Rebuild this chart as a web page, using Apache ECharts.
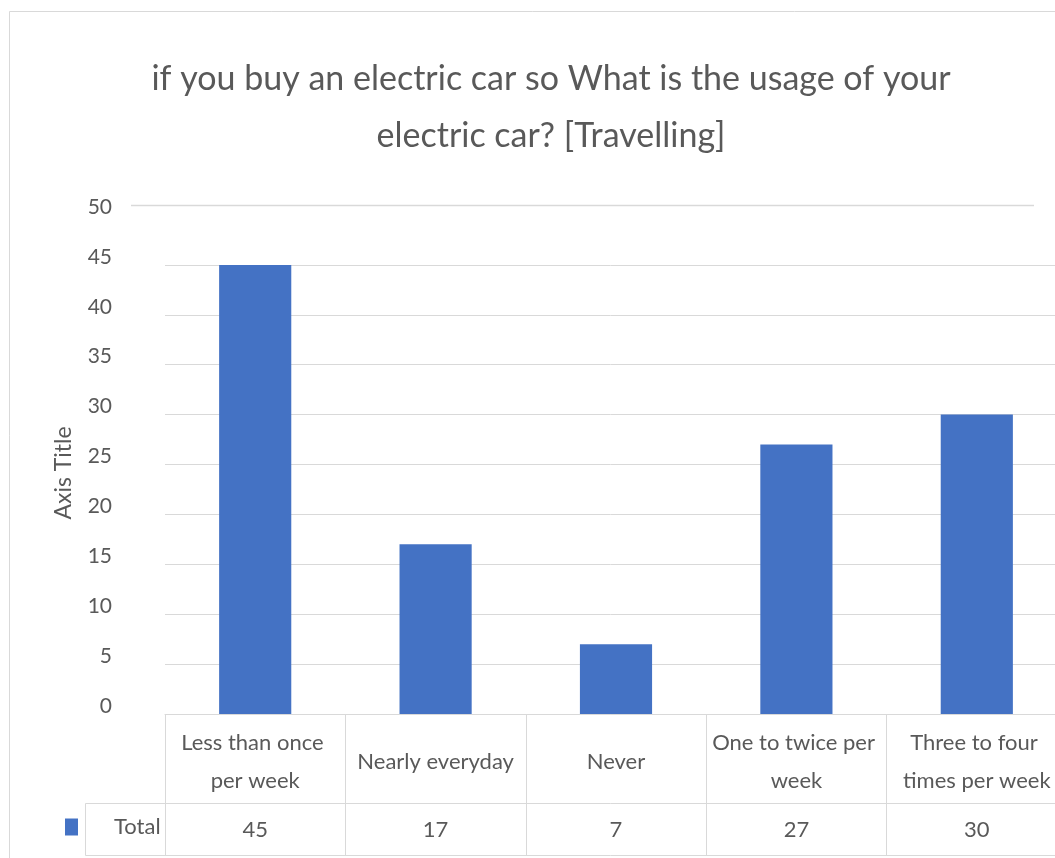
<!DOCTYPE html>
<html>
<head>
<meta charset="utf-8">
<script src="https://cdn.jsdelivr.net/npm/echarts@6/dist/echarts.min.js"></script>
<style>
  html, body { margin: 0; padding: 0; background: #ffffff; }
  #chart { width: 1055px; height: 858px; }
</style>
</head>
<body>
<div id="chart"></div>
<script>
// Survey answers: how often the electric car would be used for travelling
const categories = ['Less than once per week', 'Nearly everyday', 'Never', 'One to twice per week', 'Three to four times per week'];
const seriesName = 'Total';
const totals = [45, 17, 7, 27, 30];
const yTicks = { min: 0, max: 50, interval: 5 };
const titleLines = ['if you buy an electric car so What is the usage of your', 'electric car? [Travelling]'];

const FONT = 'Lato, "Open Sans", sans-serif';
const TEXT = '#595959';
const LINE = '#d9d9d9';
const BAR = '#4472c4';

const chart = echarts.init(document.getElementById('chart'), null, { renderer: 'canvas' });

const gridLeft = 165, gridTop = 215, gridHeight = 499, gridWidth = 902;
const headRow = 89, valueRow = 52;

chart.setOption({
  backgroundColor: '#ffffff',
  animation: false,
  title: {
    text: titleLines.join('\n'),
    left: 551,
    top: 51,
    padding: 0,
    textAlign: 'center',
    textStyle: {
      fontFamily: FONT, fontSize: 34, fontWeight: 'normal', color: TEXT,
      lineHeight: 57
    }
  },
  legend: {
    data: [seriesName],
    left: 60,
    top: 811,
    icon: 'rect',
    itemWidth: 13,
    itemHeight: 17,
    textStyle: { fontFamily: FONT, fontSize: 22, color: TEXT, padding: [0, 0, 0, 31] }
  },
  grid: {
    left: gridLeft, top: gridTop, width: gridWidth, height: gridHeight,
    containLabel: false, outerBoundsMode: 'none'
  },
  xAxis: [
    {
      type: 'category',
      data: categories,
      axisLine: { show: true, lineStyle: { color: LINE, width: 1 } },
      axisTick: { show: true, interval: 0, length: headRow + valueRow, lineStyle: { color: LINE, width: 1 } },
      axisLabel: {
        interval: 0, margin: headRow / 2 + 3, verticalAlign: 'middle',
        fontFamily: FONT, fontSize: 22, color: TEXT, lineHeight: 38,
        width: 172, overflow: 'break'
      },
      splitLine: { show: false }
    },
    {
      type: 'category',
      data: categories,
      position: 'bottom',
      offset: headRow,
      axisLine: { show: true, lineStyle: { color: LINE, width: 1 } },
      axisTick: { show: false },
      axisLabel: {
        interval: 0, margin: valueRow / 2 + 1, verticalAlign: 'middle',
        fontFamily: FONT, fontSize: 22, color: TEXT,
        formatter: (v, i) => String(totals[i])
      },
      splitLine: { show: false }
    },
    {
      type: 'category',
      data: categories,
      position: 'bottom',
      offset: headRow + valueRow,
      axisLine: { show: true, lineStyle: { color: LINE, width: 1 } },
      axisTick: { show: false },
      axisLabel: { show: false },
      splitLine: { show: false }
    }
  ],
  yAxis: {
    type: 'value',
    min: yTicks.min, max: yTicks.max, interval: yTicks.interval,
    name: 'Axis Title',
    nameLocation: 'middle',
    nameGap: 90,
    nameTextStyle: { fontFamily: FONT, fontSize: 23, color: TEXT, padding: [0, 17, 0, 0] },
    axisLine: { show: false },
    axisTick: { show: false },
    axisLabel: {
      margin: 53, fontFamily: FONT, fontSize: 21, color: TEXT,
      verticalAlign: 'bottom', lineHeight: 16
    },
    splitLine: { show: true, showMaxLine: false, lineStyle: { color: LINE, width: 1 } }
  },
  graphic: [
    // chart frame
    { type: 'rect', shape: { x: 9.5, y: 11.5, width: 1100, height: 900 }, style: { fill: 'none', stroke: LINE, lineWidth: 1 }, silent: true },
    // top rule of the plot area
    { type: 'line', shape: { x1: 131, y1: 205.5, x2: 1034, y2: 205.5 }, style: { stroke: LINE, lineWidth: 1.5 }, silent: true },
    // legend-key cell of the data table
    { type: 'polyline', shape: { points: [[gridLeft, 803.5], [85.5, 803.5], [85.5, 855.5], [gridLeft, 855.5]] }, style: { fill: 'none', stroke: LINE, lineWidth: 1 }, silent: true }
  ],
  series: [
    {
      name: seriesName,
      type: 'bar',
      data: totals,
      barWidth: '40%',
      itemStyle: { color: BAR },
      label: { show: false }
    }
  ]
});
</script>
</body>
</html>
